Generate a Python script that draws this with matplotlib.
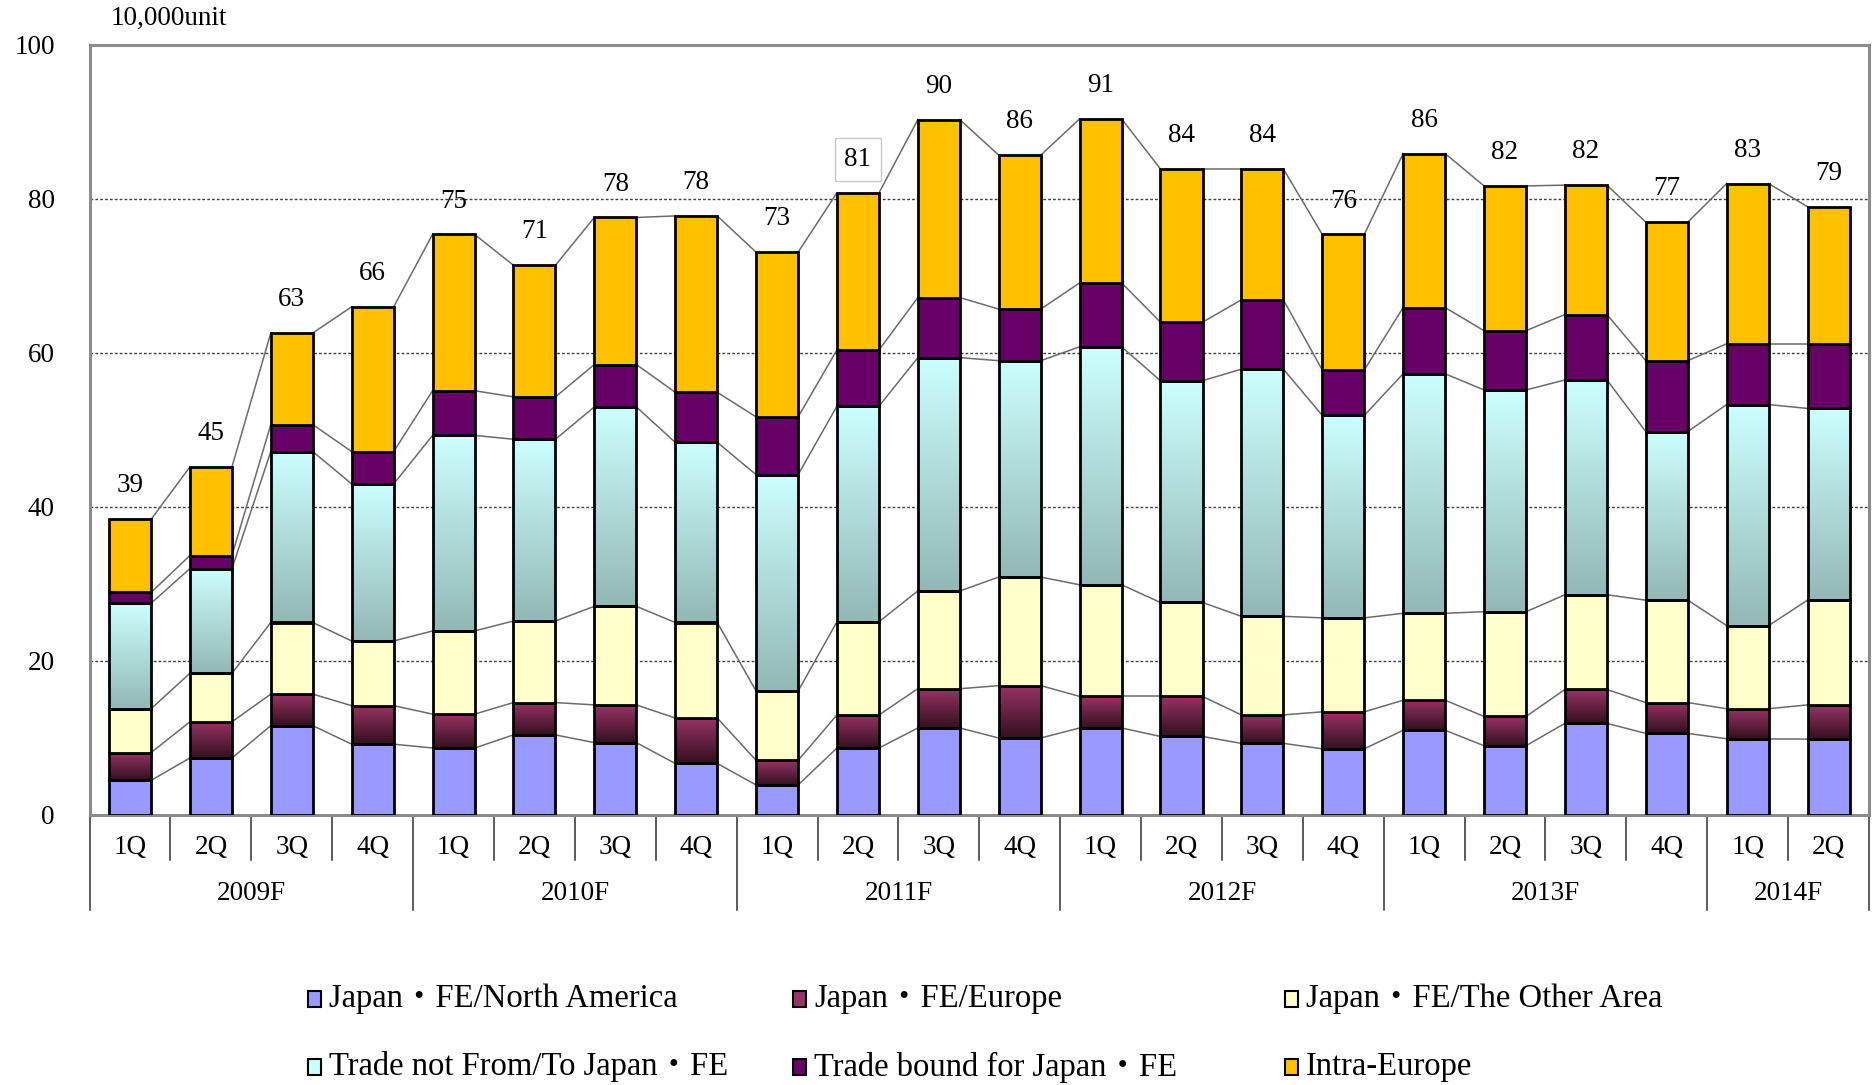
import numpy as np
import matplotlib
matplotlib.use("Agg")
import matplotlib.pyplot as plt
from matplotlib.colors import LinearSegmentedColormap
from matplotlib.patches import Rectangle
import matplotlib.transforms as mtransforms

plt.rcParams['font.family'] = ['Liberation Serif', 'Noto Sans CJK JP', 'DejaVu Sans']

quarters = ["1Q", "2Q", "3Q", "4Q"] * 5 + ["1Q", "2Q"]
years = ["2009F", "2010F", "2011F", "2012F", "2013F", "2014F"]
year_counts = [4, 4, 4, 4, 4, 2]

series_names = ["Japan・FE/North America", "Japan・FE/Europe", "Japan・FE/The Other Area",
                "Trade not From/To Japan・FE", "Trade bound for Japan・FE", "Intra-Europe"]

north_america = [4.5, 7.4, 11.6, 9.2, 8.7, 10.4, 9.4, 6.7, 3.9, 8.7, 11.3, 10.0, 11.3, 10.2, 9.3, 8.6, 11.0, 9.0, 11.9, 10.6, 9.9, 9.9]
europe = [3.6, 4.7, 4.1, 5.0, 4.4, 4.2, 4.9, 5.9, 3.2, 4.3, 5.1, 6.8, 4.1, 5.2, 3.7, 4.8, 3.9, 3.8, 4.4, 4.0, 3.9, 4.4]
other_area = [5.7, 6.3, 9.3, 8.4, 10.8, 10.6, 12.8, 12.4, 9.0, 12.1, 12.7, 14.1, 14.5, 12.2, 12.8, 12.2, 11.3, 13.6, 12.3, 13.3, 10.8, 13.6]
trade_not_japan = [13.7, 13.6, 22.2, 20.4, 25.4, 23.6, 25.9, 23.4, 28.1, 28.0, 30.3, 28.1, 30.9, 28.8, 32.1, 26.3, 31.1, 28.8, 27.9, 21.9, 28.7, 24.9]
bound_for_japan = [1.4, 1.7, 3.5, 4.2, 5.8, 5.5, 5.5, 6.5, 7.5, 7.3, 7.8, 6.7, 8.3, 7.6, 9.0, 5.9, 8.6, 7.7, 8.5, 9.2, 7.9, 8.4]
intra_europe = [9.5, 11.5, 11.9, 18.8, 20.3, 17.1, 19.1, 22.9, 21.4, 20.4, 23.1, 20.0, 21.3, 19.9, 17.0, 17.6, 20.0, 18.8, 16.8, 18.0, 20.8, 17.8]
total_labels = ["39", "45", "63", "66", "75", "71", "78", "78", "73", "81", "90", "86", "91", "84", "84", "76", "86", "82", "82", "77", "83", "79"]

series = [north_america, europe, other_area, trade_not_japan, bound_for_japan, intra_europe]
# (flat color) or (bottom color, top color) gradients
styles = [("#9999FF",), ("#33101F", "#993366"), ("#FFFFCC",),
          ("#93B8B5", "#CCFFFF"), ("#660066",), ("#FFC000",)]

W, H = 1873, 1085
fig = plt.figure(figsize=(W / 100, H / 100), dpi=100)
ax_left, ax_right, ax_top, ax_bot = 89.6, 1869, 45, 815
ax = fig.add_axes([ax_left / W, 1 - ax_bot / H, (ax_right - ax_left) / W, (ax_bot - ax_top) / H])

FS = 19.5
n = len(quarters)
x = np.arange(n)
bw = 0.52
data = np.array(series)
cum = np.cumsum(data, axis=0)
bottoms = np.vstack([np.zeros(n), cum[:-1]])

for s in range(len(series)):
    st = styles[s]
    if len(st) == 1:
        ax.bar(x, data[s], bw, bottom=bottoms[s], color=st[0], edgecolor="black", linewidth=2.0, zorder=3)
    else:
        cmap = LinearSegmentedColormap.from_list("g%d" % s, [st[0], st[1]])
        grad = np.linspace(0, 1, 256).reshape(-1, 1)
        for i in range(n):
            ax.imshow(grad, cmap=cmap, extent=[x[i] - bw / 2, x[i] + bw / 2, bottoms[s][i], cum[s][i]],
                      aspect="auto", origin="lower", zorder=2, interpolation="bilinear")
        ax.bar(x, data[s], bw, bottom=bottoms[s], facecolor="none", edgecolor="black", linewidth=2.0, zorder=3)

# series lines connecting bars
for s in range(len(series)):
    for i in range(n - 1):
        ax.plot([x[i] + bw / 2, x[i + 1] - bw / 2], [cum[s][i], cum[s][i + 1]],
                color="#6b6b6b", lw=1.1, zorder=1.5)

# total labels
for i in range(n):
    kw = {}
    if total_labels[i] == "81":
        kw["bbox"] = dict(boxstyle="square,pad=0.35", fc="white", ec="#c8c8c8", lw=1)
    ax.annotate(total_labels[i], (x[i], cum[-1][i]), xytext=(0, 15), textcoords="offset points",
                ha="center", va="bottom", fontsize=FS, zorder=5, **kw)

ax.set_xlim(-0.5, n - 0.5)
ax.set_ylim(0, 100)
ax.set_yticks([0, 20, 40, 60, 80, 100])
ax.tick_params(axis="y", length=0, pad=25, labelsize=FS)
ax.set_xticks([])
for y in [20, 40, 60, 80]:
    ax.axhline(y, color="#404040", lw=1.0, ls=(0, (2, 1.5)), zorder=0.5)
for sp in ax.spines.values():
    sp.set_color("#8c8c8c")
    sp.set_linewidth(2.2)

# category axis
trans = mtransforms.blended_transform_factory(ax.transData, ax.transAxes)
axh = ax_bot - ax_top
for i in range(n):
    ax.text(x[i], -33 / axh, quarters[i], transform=trans, ha="center", va="center", fontsize=FS)
year_bounds = [-0.5]
for c in year_counts:
    year_bounds.append(year_bounds[-1] + c)
for i in range(n - 1):
    b = i + 0.5
    if b not in year_bounds:
        ax.plot([b, b], [0, -45 / axh], transform=trans, color="#303030", lw=1.1, clip_on=False)
for b in year_bounds:
    ax.plot([b, b], [0, -95 / axh], transform=trans, color="#303030", lw=1.1, clip_on=False)
for j, yname in enumerate(years):
    c = (year_bounds[j] + year_bounds[j + 1]) / 2
    ax.text(c, -79 / axh, yname, transform=trans, ha="center", va="center", fontsize=FS)

fig.text(111 / W, 1 - 18 / H, "10,000unit", ha="left", va="center", fontsize=FS)

# legend
col_x = [308, 793, 1285]
row_y = [999, 1067]
for k, name in enumerate(series_names):
    r, c = divmod(k, 3)
    st = styles[k]
    fc = st[0] if len(st) == 1 else st[1]
    mx, my = col_x[c], row_y[r]
    fig.patches.append(Rectangle((mx / W, 1 - (my + 8) / H), 13 / W, 16 / H, transform=fig.transFigure,
                                 facecolor=fc, edgecolor="black", lw=1.5))
    fig.text((mx + 21) / W, 1 - my / H, name, ha="left", va="center", fontsize=23.5)

fig.savefig("out.png", dpi=100)
